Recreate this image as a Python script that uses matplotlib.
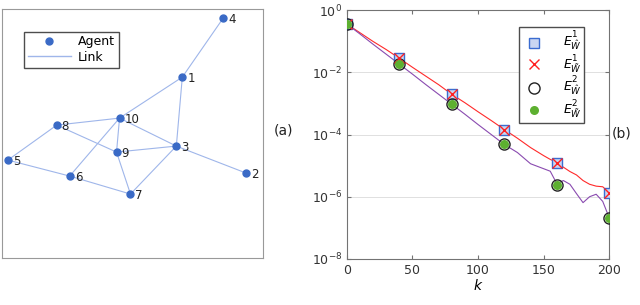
import numpy as np
import matplotlib
matplotlib.use("Agg")
import matplotlib.pyplot as plt
from matplotlib.lines import Line2D

# ---- panel (a): network ----
node_ids = [1, 2, 3, 4, 5, 6, 7, 8, 9, 10]
node_x = [182, 246, 176, 223, 7, 69, 130, 56, 116, 119]
node_y = [77, 173, 146, 18, 160, 176, 194, 125, 152, 118]
edges = [(4, 1), (1, 10), (1, 3), (10, 8), (10, 9), (10, 3), (10, 6),
         (8, 5), (8, 9), (9, 3), (9, 7), (3, 7), (3, 2), (5, 6), (6, 7)]

# ---- panel (b): errors vs k ----
k_line = [0, 10, 20, 30, 40, 50, 60, 70, 80, 90, 100, 110, 120, 130, 140,
          150, 155, 160, 165, 170, 175, 180, 185, 190, 195, 200]
e1_line = [-0.45, -0.73, -1.01, -1.27, -1.55, -1.84, -2.12, -2.40, -2.71,
           -2.98, -3.27, -3.55, -3.84, -4.12, -4.42, -4.68, -4.80, -4.90,
           -5.05, -5.19, -5.30, -5.48, -5.60, -5.66, -5.68, -5.87]
e2_line = [-0.45, -0.77, -1.10, -1.42, -1.74, -2.06, -2.39, -2.71, -3.03,
           -3.35, -3.68, -4.00, -4.32, -4.58, -4.94, -5.10, -5.18, -5.58,
           -5.48, -5.60, -5.90, -6.19, -6.00, -5.92, -6.15, -6.68]
k_mark = [0, 40, 80, 120, 160, 200]
e1_mark = [-0.45, -1.55, -2.71, -3.84, -4.90, -5.87]
e2_mark = [-0.45, -1.74, -3.03, -4.32, -5.61, -6.68]

NODE = "#3a6ac6"
LINK = "#9fb6ea"

fig = plt.figure(figsize=(6.4, 3.05), dpi=100)

# (a)
axa = fig.add_axes([0.003, 0.154, 0.408, 0.816])
pos = {n: (x, y) for n, x, y in zip(node_ids, node_x, node_y)}
for a, b in edges:
    axa.plot([pos[a][0], pos[b][0]], [pos[a][1], pos[b][1]],
             color=LINK, lw=0.8, zorder=1)
axa.plot(node_x, node_y, "o", color=NODE, ms=5, zorder=2, lw=0)
for n, x, y in zip(node_ids, node_x, node_y):
    axa.text(x + 5, y + 1, str(n), fontsize=8.5, color="#222222",
             ha="left", va="center", zorder=3)
axa.set_xlim(1, 263)
axa.set_ylim(258, 9)
axa.set_xticks([])
axa.set_yticks([])
for s in axa.spines.values():
    s.set_color("0.6")
    s.set_linewidth(0.8)
h = [Line2D([], [], marker="o", ls="none", color=NODE, ms=5),
     Line2D([], [], color=LINK, lw=1.0)]
axa.legend(h, ["Agent", "Link"], loc="upper left", bbox_to_anchor=(0.062, 0.935),
           fontsize=9, fancybox=False, edgecolor="0.3", framealpha=1,
           handlelength=3.4, borderpad=0.3, labelspacing=0.2, handletextpad=0.6)
fig.text(0.443, 0.573, "(a)", fontsize=10, ha="center", va="center", color="#222222")

# (b)
axb = fig.add_axes([0.542, 0.151, 0.410, 0.816])
kl = np.array(k_line)
axb.plot(kl, 10.0 ** np.array(e1_line), color="#ff2a2a", lw=0.8, zorder=2)
axb.plot(kl, 10.0 ** np.array(e2_line), color="#8a4bb0", lw=0.8, zorder=2)
km = np.array(k_mark)
m1 = 10.0 ** np.array(e1_mark)
m2 = 10.0 ** np.array(e2_mark)
axb.plot(km, m1, "s", mfc="#c9d6f2", mec="#3b6cd0", ms=6.5, mew=1.0, ls="none",
         zorder=3, label=r"$E^1_{\hat{W}}$")
axb.plot(km, m1, "x", color="#ff2020", ms=6.5, mew=1.0, ls="none",
         zorder=4, label=r"$E^1_{\tilde{W}}$")
axb.plot(km, m2, "o", mfc="none", mec="#222222", ms=8, mew=1.0, ls="none",
         zorder=3, label=r"$E^2_{\hat{W}}$")
axb.plot(km, m2, "o", color="#5db030", ms=6.5, mew=0, ls="none",
         zorder=4, label=r"$E^2_{\tilde{W}}$")
axb.set_yscale("log")
axb.set_ylim(1e-8, 1)
axb.set_xlim(0, 200)
axb.set_xticks([0, 50, 100, 150, 200])
axb.set_yticks([1e0, 1e-2, 1e-4, 1e-6, 1e-8])
axb.yaxis.set_minor_locator(matplotlib.ticker.NullLocator())
axb.tick_params(direction="in", top=True, right=True, length=3,
                labelsize=9, colors="0.45", labelcolor="#333333")
axb.grid(True, axis="y", color="0.88", lw=0.7)
axb.set_axisbelow(True)
for s in axb.spines.values():
    s.set_color("0.45")
    s.set_linewidth(0.8)
axb.set_xlabel(r"$k$", fontsize=10, labelpad=1)
axb.legend(loc="upper left", bbox_to_anchor=(0.655, 0.93), fontsize=9,
           fancybox=False, edgecolor="0.3", framealpha=1, handlelength=2.0,
           borderpad=0.2, labelspacing=0.0, handletextpad=1.3,
           borderaxespad=0)
fig.text(0.972, 0.563, "(b)", fontsize=10, ha="center", va="center", color="#222222")

fig.savefig("out.png", dpi=100)
